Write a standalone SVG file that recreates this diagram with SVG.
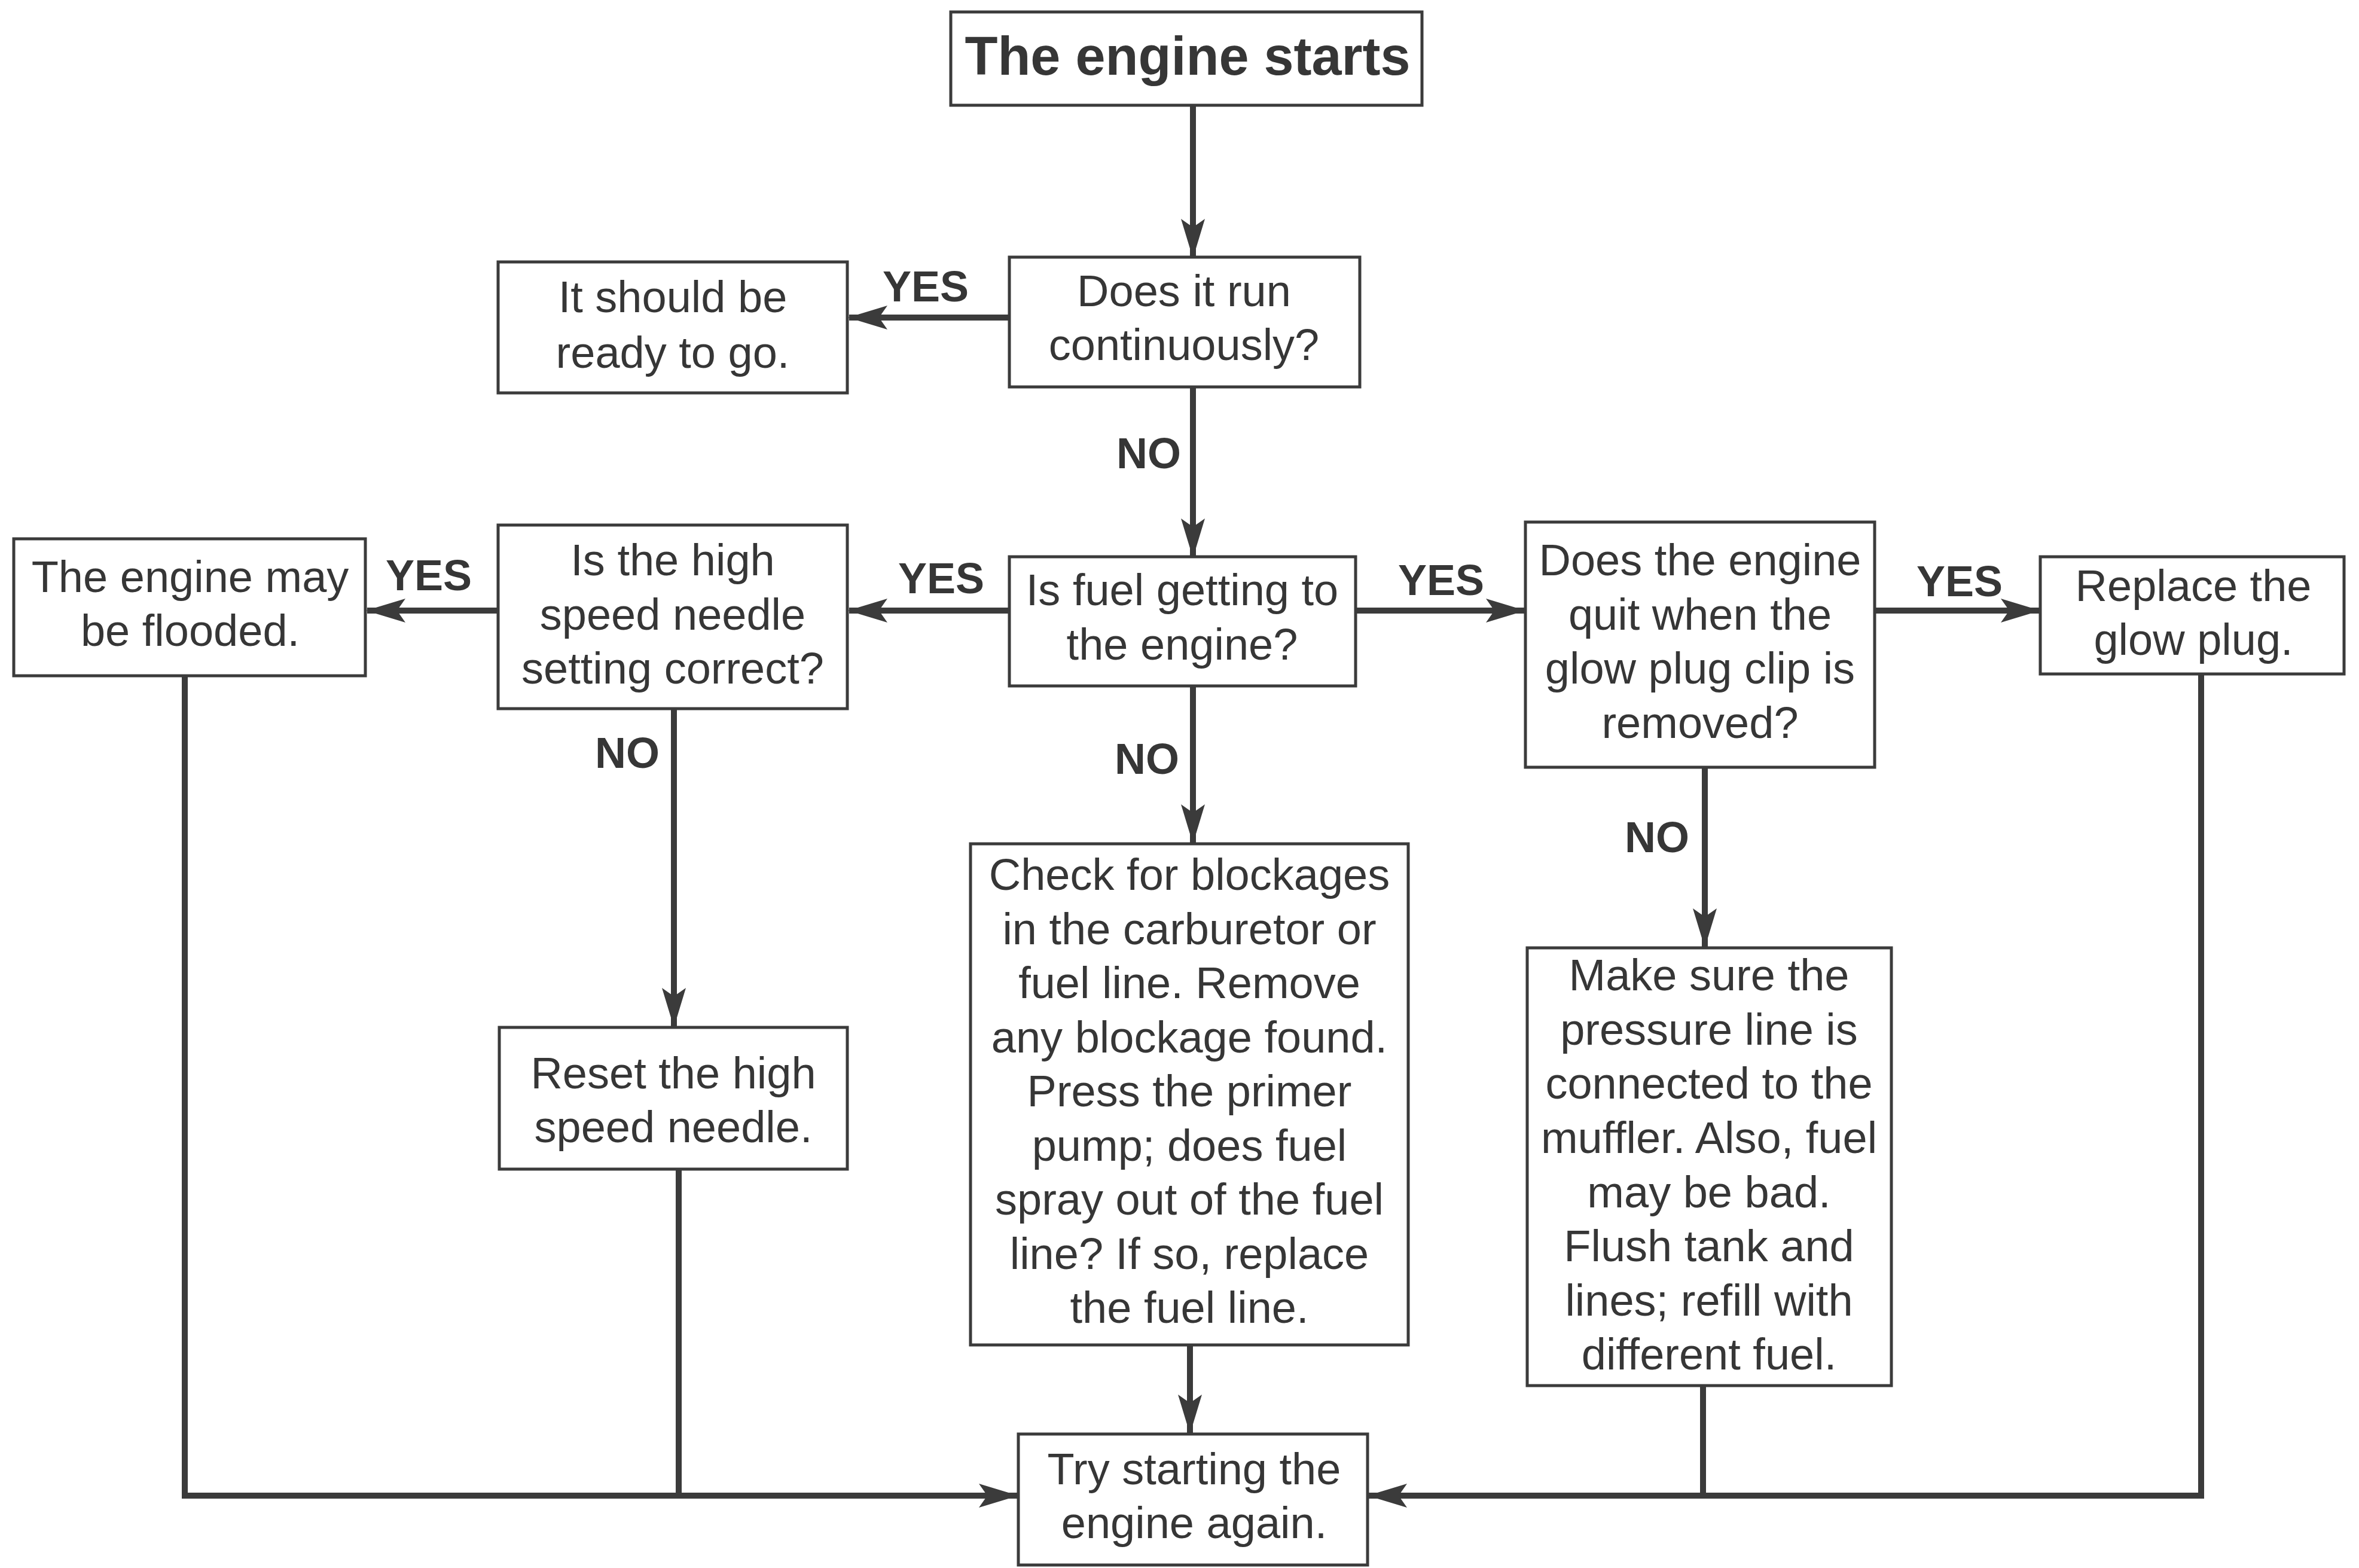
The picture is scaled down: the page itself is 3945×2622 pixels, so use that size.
<svg xmlns="http://www.w3.org/2000/svg" width="3945" height="2622" viewBox="0 0 3945 2622">
<style>
  .box { fill: #ffffff; stroke: #3b3b3b; stroke-width: 5; }
  .t { font-family: "Liberation Sans", Arial, sans-serif; font-size: 74px; fill: #363636; text-anchor: middle; }
  .title { font-family: "Liberation Sans", Arial, sans-serif; font-size: 90px; font-weight: bold; fill: #363636; text-anchor: middle; }
  .lbl { font-family: "Liberation Sans", Arial, sans-serif; font-size: 72px; font-weight: bold; fill: #363636; text-anchor: middle; }
  .c { fill: none; stroke: #3b3b3b; stroke-width: 10; }
  .arr { marker-end: url(#ah); }
</style>
<defs>
  <marker id="ah" viewBox="0 0 66 40" refX="64" refY="20" markerWidth="66" markerHeight="40" markerUnits="userSpaceOnUse" orient="auto">
    <path d="M0,0 L66,20 L0,40 L14,20 Z" fill="#3b3b3b"/>
  </marker>
</defs>
<rect width="3945" height="2622" fill="#ffffff"/>

<g id="connectors">
  <path class="c arr" d="M1995,176 V430"/>
  <path class="c arr" d="M1688,531 H1420"/>
  <path class="c arr" d="M1995,647 V931"/>
  <path class="c arr" d="M1688,1021 H1420"/>
  <path class="c arr" d="M833,1021 H614"/>
  <path class="c arr" d="M2267,1021 H2549"/>
  <path class="c arr" d="M3135,1021 H3410"/>
  <path class="c arr" d="M1995,1147 V1409"/>
  <path class="c arr" d="M1127,1185 V1716"/>
  <path class="c arr" d="M2851,1283 V1583"/>
  <path class="c arr" d="M1990,2249 V2396"/>
  <path class="c arr" d="M309,1130 V2501 H1701"/>
  <path class="c" d="M1135,1955 V2501"/>
  <path class="c arr" d="M3681,1127 V2501 H2289"/>
  <path class="c" d="M2848,2317 V2501"/>
  <text class="lbl" x="1548" y="504">YES</text>
  <text class="lbl" x="1921" y="783">NO</text>
  <text class="lbl" x="1574" y="992">YES</text>
  <text class="lbl" x="717" y="987">YES</text>
  <text class="lbl" x="2410" y="995">YES</text>
  <text class="lbl" x="3277" y="997">YES</text>
  <text class="lbl" x="1918" y="1294">NO</text>
  <text class="lbl" x="1049" y="1284">NO</text>
  <text class="lbl" x="2771" y="1425">NO</text>
</g>

<g id="start">
  <rect class="box" x="1590" y="20" width="788" height="156"/>
  <text class="title" x="1986" y="125">The engine starts</text>
</g>
<g id="run-continuously">
  <rect class="box" x="1688" y="430" width="586" height="217"/>
  <text class="t" x="1980" y="512">Does it run</text>
  <text class="t" x="1980" y="602">continuously?</text>
</g>
<g id="ready">
  <rect class="box" x="833" y="438" width="584" height="219"/>
  <text class="t" x="1125" y="522">It should be</text>
  <text class="t" x="1125" y="615">ready to go.</text>
</g>
<g id="fuel-getting">
  <rect class="box" x="1688" y="931" width="579" height="216"/>
  <text class="t" x="1977" y="1012">Is fuel getting to</text>
  <text class="t" x="1977" y="1103">the engine?</text>
</g>
<g id="needle-correct">
  <rect class="box" x="833" y="878" width="584" height="307"/>
  <text class="t" x="1125" y="962">Is the high</text>
  <text class="t" x="1125" y="1053">speed needle</text>
  <text class="t" x="1125" y="1143">setting correct?</text>
</g>
<g id="flooded">
  <rect class="box" x="23" y="901" width="588" height="229"/>
  <text class="t" x="318" y="990">The engine may</text>
  <text class="t" x="318" y="1080">be flooded.</text>
</g>
<g id="glow-clip">
  <rect class="box" x="2551" y="873" width="584" height="410"/>
  <text class="t" x="2843" y="962">Does the engine</text>
  <text class="t" x="2843" y="1053">quit when the</text>
  <text class="t" x="2843" y="1143">glow plug clip is</text>
  <text class="t" x="2843" y="1234">removed?</text>
</g>
<g id="replace-plug">
  <rect class="box" x="3412" y="931" width="508" height="196"/>
  <text class="t" x="3668" y="1005">Replace the</text>
  <text class="t" x="3668" y="1095">glow plug.</text>
</g>
<g id="check-blockages">
  <rect class="box" x="1623" y="1411" width="732" height="838"/>
  <text class="t" x="1989" y="1488">Check for blockages</text>
  <text class="t" x="1989" y="1579">in the carburetor or</text>
  <text class="t" x="1989" y="1669">fuel line. Remove</text>
  <text class="t" x="1989" y="1760">any blockage found.</text>
  <text class="t" x="1989" y="1850">Press the primer</text>
  <text class="t" x="1989" y="1941">pump; does fuel</text>
  <text class="t" x="1989" y="2031">spray out of the fuel</text>
  <text class="t" x="1989" y="2122">line? If so, replace</text>
  <text class="t" x="1989" y="2212">the fuel line.</text>
</g>
<g id="reset-needle">
  <rect class="box" x="835" y="1718" width="582" height="237"/>
  <text class="t" x="1126" y="1820">Reset the high</text>
  <text class="t" x="1126" y="1910">speed needle.</text>
</g>
<g id="pressure-line">
  <rect class="box" x="2554" y="1585" width="609" height="732"/>
  <text class="t" x="2858" y="1656">Make sure the</text>
  <text class="t" x="2858" y="1747">pressure line is</text>
  <text class="t" x="2858" y="1837">connected to the</text>
  <text class="t" x="2858" y="1928">muffler. Also, fuel</text>
  <text class="t" x="2858" y="2019">may be bad.</text>
  <text class="t" x="2858" y="2109">Flush tank and</text>
  <text class="t" x="2858" y="2200">lines; refill with</text>
  <text class="t" x="2858" y="2290">different fuel.</text>
</g>
<g id="try-again">
  <rect class="box" x="1703" y="2398" width="584" height="219"/>
  <text class="t" x="1997" y="2482">Try starting the</text>
  <text class="t" x="1997" y="2572">engine again.</text>
</g>
</svg>
